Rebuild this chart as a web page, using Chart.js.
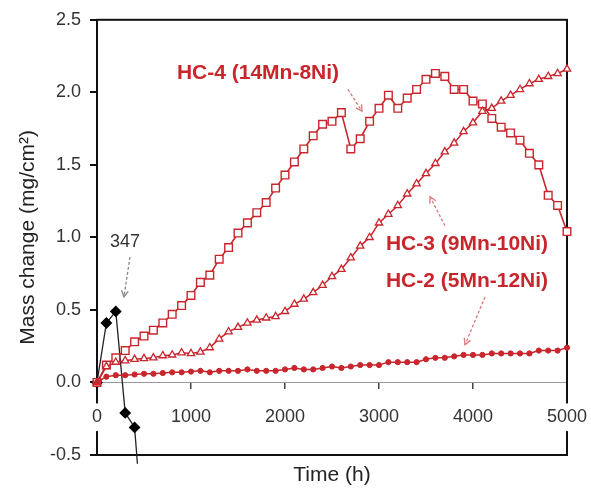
<!DOCTYPE html>
<html>
<head>
<meta charset="utf-8">
<script src="https://cdn.jsdelivr.net/npm/chart.js@4.4.0/dist/chart.umd.min.js"></script>
<style>
  html, body { margin: 0; padding: 0; background: #fff; }
</style>
</head>
<body>
<canvas id="chart" width="591" height="488"></canvas>
<script>
// hours of exposure, one reading every 100 h
const hours = [0, 100, 200, 300, 400, 500, 600, 700, 800, 900,
    1000, 1100, 1200, 1300, 1400, 1500, 1600, 1700, 1800, 1900,
    2000, 2100, 2200, 2300, 2400, 2500, 2600, 2700, 2800, 2900,
    3000, 3100, 3200, 3300, 3400, 3500, 3600, 3700, 3800, 3900,
    4000, 4100, 4200, 4300, 4400, 4500, 4600, 4700, 4800, 4900, 5000];

const hc4Mass = [0.00, 0.12, 0.17, 0.22, 0.28, 0.32, 0.36, 0.41, 0.47, 0.53,
    0.60, 0.69, 0.74, 0.85, 0.93, 1.03, 1.10, 1.17, 1.24, 1.34,
    1.43, 1.52, 1.61, 1.70, 1.78, 1.80, 1.86, 1.61, 1.68, 1.80,
    1.89, 1.98, 1.89, 1.96, 2.02, 2.09, 2.13, 2.11, 2.02, 2.02,
    1.94, 1.92, 1.82, 1.76, 1.72, 1.67, 1.58, 1.50, 1.29, 1.22, 1.04];

const hc3Mass = [0.00, 0.11, 0.14, 0.15, 0.16, 0.165, 0.17, 0.185, 0.19, 0.205,
    0.20, 0.21, 0.24, 0.30, 0.35, 0.38, 0.41, 0.43, 0.445, 0.455,
    0.49, 0.54, 0.575, 0.62, 0.67, 0.73, 0.78, 0.86, 0.94, 1.00,
    1.10, 1.16, 1.22, 1.30, 1.37, 1.44, 1.51, 1.59, 1.65, 1.73,
    1.79, 1.87, 1.89, 1.94, 1.98, 2.02, 2.06, 2.09, 2.11, 2.13, 2.16];

const hc2Mass = [0.00, 0.04, 0.05, 0.05, 0.055, 0.06, 0.06, 0.065, 0.07, 0.07,
    0.075, 0.08, 0.07, 0.08, 0.08, 0.08, 0.09, 0.08, 0.08, 0.08,
    0.09, 0.10, 0.09, 0.09, 0.10, 0.11, 0.10, 0.11, 0.12, 0.12,
    0.12, 0.14, 0.14, 0.14, 0.14, 0.16, 0.17, 0.17, 0.18, 0.19,
    0.19, 0.19, 0.20, 0.20, 0.20, 0.20, 0.20, 0.22, 0.22, 0.22, 0.24];

// 347 steel, drops off the bottom of the plot
const ss347Hours = [0, 100, 200, 300, 400, 430];
const ss347Mass = [0.00, 0.41, 0.49, -0.21, -0.31, -0.56];

const yTicks = [-0.5, 0.0, 0.5, 1.0, 1.5, 2.0, 2.5];

const RED = '#c8262c';
const FONT = '"Liberation Sans", Arial, sans-serif';

const pts = (xs, ys) => xs.map((x, i) => ({ x: x, y: ys[i] }));

// labels and dashed arrows, placed in data units
const notes = [
    { text: 'HC-4 (14Mn-8Ni)', x: 1713, y: 2.13, color: RED, bold: true },
    { text: 'HC-3 (9Mn-10Ni)', x: 3936, y: 0.95, color: RED, bold: true },
    { text: 'HC-2 (5Mn-12Ni)', x: 3936, y: 0.70, color: RED, bold: true },
    { text: '347', x: 298, y: 0.97, color: '#333', bold: false }
];
const arrows = [
    { x1: 2670, y1: 2.02, x2: 2819, y2: 1.87, color: '#dc7a7a' },
    { x1: 3702, y1: 1.08, x2: 3543, y2: 1.28, color: '#dc7a7a' },
    { x1: 4128, y1: 0.59, x2: 3915, y2: 0.26, color: '#dc7a7a' },
    { x1: 351, y1: 0.865, x2: 287, y2: 0.59, color: '#888' }
];

const framePlugin = {
    id: 'frame',
    beforeDatasetsDraw(chart) {
        const { ctx, chartArea: a } = chart;
        ctx.save();
        ctx.strokeStyle = '#111';
        ctx.lineWidth = 2;
        ctx.strokeRect(a.left, a.top, a.right - a.left, a.bottom - a.top);
        ctx.restore();
    }
};

const notesPlugin = {
    id: 'notes',
    afterDraw(chart) {
        const { ctx } = chart;
        const xs = chart.scales.x, ys = chart.scales.y;
        ctx.save();
        arrows.forEach(a => {
            const x1 = xs.getPixelForValue(a.x1), y1 = ys.getPixelForValue(a.y1);
            const x2 = xs.getPixelForValue(a.x2), y2 = ys.getPixelForValue(a.y2);
            ctx.strokeStyle = a.color;
            ctx.lineWidth = 1.3;
            ctx.setLineDash([3, 2]);
            ctx.beginPath();
            ctx.moveTo(x1, y1);
            ctx.lineTo(x2, y2);
            ctx.stroke();
            ctx.setLineDash([]);
            const ang = Math.atan2(y2 - y1, x2 - x1);
            const len = 7;
            ctx.beginPath();
            ctx.moveTo(x2 - len * Math.cos(ang - 0.5), y2 - len * Math.sin(ang - 0.5));
            ctx.lineTo(x2, y2);
            ctx.lineTo(x2 - len * Math.cos(ang + 0.5), y2 - len * Math.sin(ang + 0.5));
            ctx.stroke();
        });
        ctx.textAlign = 'center';
        ctx.textBaseline = 'middle';
        notes.forEach(n => {
            ctx.font = (n.bold ? 'bold 21px ' : '18px ') + FONT;
            ctx.fillStyle = n.color;
            ctx.fillText(n.text, xs.getPixelForValue(n.x), ys.getPixelForValue(n.y));
        });
        ctx.restore();
    }
};

new Chart(document.getElementById('chart'), {
    type: 'line',
    data: {
        datasets: [
            {
                label: 'HC-2 (5Mn-12Ni)',
                data: pts(hours, hc2Mass),
                borderColor: RED, borderWidth: 1.5,
                pointStyle: 'circle', pointRadius: 2.6,
                pointBackgroundColor: RED, pointBorderColor: RED, pointBorderWidth: 1,
                clip: false
            },
            {
                label: 'HC-3 (9Mn-10Ni)',
                data: pts(hours, hc3Mass),
                borderColor: RED, borderWidth: 1.5,
                pointStyle: 'triangle', pointRadius: 4.2,
                pointBackgroundColor: '#fff', pointBorderColor: RED, pointBorderWidth: 1.3,
                clip: false
            },
            {
                label: 'HC-4 (14Mn-8Ni)',
                data: pts(hours, hc4Mass),
                borderColor: RED, borderWidth: 1.6,
                pointStyle: 'rect', pointRadius: 5.4,
                pointBackgroundColor: '#fff', pointBorderColor: RED, pointBorderWidth: 1.4,
                clip: false
            },
            {
                label: '347',
                data: pts(ss347Hours, ss347Mass),
                borderColor: '#222', borderWidth: 1.3,
                pointStyle: 'rectRot', pointRadius: 5,
                pointBackgroundColor: '#000', pointBorderColor: '#000',
                clip: false
            }
        ]
    },
    options: {
        responsive: false,
        animation: false,
        layout: { padding: { top: 18, right: 24, bottom: 0, left: 0 } },
        plugins: {
            legend: { display: false },
            tooltip: { enabled: false }
        },
        elements: { line: { tension: 0 } },
        scales: {
            x: {
                type: 'linear',
                position: 'bottom',
                min: 0, max: 5000,
                ticks: { display: false },
                grid: { display: false },
                border: { display: false },
                title: {
                    display: true, text: 'Time (h)', color: '#222',
                    font: { family: FONT, size: 21 }, padding: { top: 0, bottom: 0 }
                },
                afterFit: s => { s.height = 33; s.paddingLeft = 0; s.paddingRight = 0; }
            },
            x2: {
                type: 'linear',
                position: { y: 0 },
                min: 0, max: 5000,
                ticks: {
                    stepSize: 1000, color: '#333', padding: 18, z: 1,
                    font: { family: FONT, size: 18 },
                    showLabelBackdrop: true, backdropColor: '#fff',
                    backdropPadding: { top: 3, bottom: 3, left: 1, right: 1 },
                    callback: v => String(v)
                },
                grid: { drawOnChartArea: false, tickLength: 6, color: '#444', lineWidth: 1.5 },
                border: { display: true, color: '#999', width: 1 },
                afterFit: s => { s.height = 0; s.paddingLeft = 0; s.paddingRight = 0; }
            },
            y: {
                type: 'linear',
                min: -0.5, max: 2.5,
                afterBuildTicks: s => { s.ticks = yTicks.map(v => ({ value: v })); },
                ticks: {
                    color: '#333', padding: 9,
                    font: { family: FONT, size: 18 },
                    callback: v => v.toFixed(1)
                },
                grid: { drawOnChartArea: false, tickLength: 7, color: '#111', lineWidth: 2 },
                border: { display: false },
                title: {
                    display: true, text: 'Mass change (mg/cm²)', color: '#222',
                    font: { family: FONT, size: 21 }, padding: { top: 16, bottom: 0 }
                },
                afterFit: s => { s.width = 97; }
            }
        }
    },
    plugins: [framePlugin, notesPlugin]
});
</script>
</body>
</html>
